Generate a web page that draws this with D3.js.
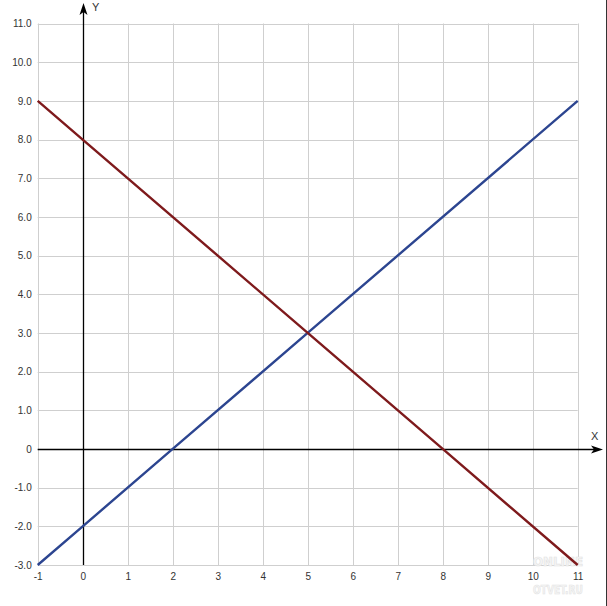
<!DOCTYPE html>
<html>
<head>
<meta charset="utf-8">
<script src="https://cdn.jsdelivr.net/npm/d3@7"></script>
<style>
  html, body { margin: 0; padding: 0; background: #fff; }
  svg { display: block; }
  .tick text { font-family: "Liberation Sans", Arial, sans-serif; font-size: 10px; fill: #333; }
</style>
</head>
<body>
<svg id="chart" width="607" height="606"></svg>
<script>
// ---- data ----
const xTicks = [-1, 0, 1, 2, 3, 4, 5, 6, 7, 8, 9, 10, 11];
const yTicks = [-3, -2, -1, 0, 1, 2, 3, 4, 5, 6, 7, 8, 9, 10, 11];
const yTickLabels = ["-3.0", "-2.0", "-1.0", "0", "1.0", "2.0", "3.0", "4.0", "5.0", "6.0", "7.0", "8.0", "9.0", "10.0", "11.0"];
const redX = [-1, 0, 5, 8, 11];
const redY = [9, 8, 3, 0, -3];
const blueX = [-1, 0, 2, 5, 11];
const blueY = [-3, -2, 0, 3, 9];
const axisLabels = ["X", "Y"];
const watermark = ["ONLINE", "OTVET.RU"];

// ---- layout ----
const svg = d3.select("#chart");
const x = d3.scaleLinear().domain([-1, 11]).range([37.7, 577.7]);
const y = d3.scaleLinear().domain([-3, 11]).range([565, 23.5]);

// grid
const grid = svg.append("g").attr("stroke", "#cfcfcf").attr("stroke-width", 1);
grid.selectAll("line.v").data(xTicks).join("line")
  .attr("class", "v")
  .attr("x1", d => Math.round(x(d)) + 0.5).attr("x2", d => Math.round(x(d)) + 0.5)
  .attr("y1", y(11)).attr("y2", y(-3));
grid.selectAll("line.h").data(yTicks).join("line")
  .attr("class", "h")
  .attr("y1", d => Math.round(y(d)) + 0.5).attr("y2", d => Math.round(y(d)) + 0.5)
  .attr("x1", x(-1)).attr("x2", x(11));

// tick labels via d3 axes
const yAxis = d3.axisLeft(y).tickValues(yTicks).tickSize(0).tickPadding(6)
  .tickFormat((d, i) => yTickLabels[i]);
svg.append("g").attr("transform", `translate(${x(-1)},0)`).call(yAxis)
  .call(g => g.select(".domain").remove());
const xAxis = d3.axisBottom(x).tickValues(xTicks).tickSize(0).tickPadding(8)
  .tickFormat(d => String(d));
svg.append("g").attr("transform", `translate(0,${y(-3)})`).call(xAxis)
  .call(g => g.select(".domain").remove());

// watermark (faint)
const wm = svg.append("g").attr("font-family", "DejaVu Sans, sans-serif")
  .attr("font-weight", "bold").attr("fill", "#f6f6f6").attr("stroke", "#e4e4e4").attr("stroke-width", 0.7);
wm.append("text").attr("x", 533).attr("y", 566).attr("font-size", 12)
  .attr("textLength", 50).attr("lengthAdjust", "spacingAndGlyphs").text(watermark[0]);
wm.append("text").attr("x", 533).attr("y", 594).attr("font-size", 12)
  .attr("textLength", 50).attr("lengthAdjust", "spacingAndGlyphs").text(watermark[1]);

// axes lines with arrows
const axX0 = Math.round(x(0)) + 0.5;
const axY0 = Math.round(y(0)) + 0.5;
svg.append("line").attr("x1", axX0).attr("x2", axX0).attr("y1", y(-3)).attr("y2", 10)
  .attr("stroke", "#000").attr("stroke-width", 1.3);
svg.append("path").attr("d", `M${axX0},3 L${axX0 - 4},15 L${axX0},12 L${axX0 + 4},15 Z`).attr("fill", "#000");
svg.append("line").attr("x1", x(-1)).attr("x2", 597).attr("y1", axY0).attr("y2", axY0)
  .attr("stroke", "#000").attr("stroke-width", 1.3);
svg.append("path").attr("d", `M603,${axY0} L591,${axY0 - 4} L594,${axY0} L591,${axY0 + 4} Z`).attr("fill", "#000");

svg.append("text").attr("x", 591).attr("y", 440)
  .attr("font-family", "Liberation Sans, Arial, sans-serif").attr("font-size", 11).attr("fill", "#333")
  .text(axisLabels[0]);
svg.append("text").attr("x", 92).attr("y", 11)
  .attr("font-family", "Liberation Sans, Arial, sans-serif").attr("font-size", 11).attr("fill", "#333")
  .text(axisLabels[1]);

// data lines
const line = d3.line().x(d => x(d[0])).y(d => y(d[1]));
const redPts = redX.map((v, i) => [v, redY[i]]);
const bluePts = blueX.map((v, i) => [v, blueY[i]]);
svg.append("path").datum(bluePts).attr("d", line)
  .attr("fill", "none").attr("stroke", "#2c4590").attr("stroke-width", 2.4);
svg.append("path").datum(redPts).attr("d", line)
  .attr("fill", "none").attr("stroke", "#7e1a1c").attr("stroke-width", 2.4);

// right edge line
svg.append("line").attr("x1", 606.5).attr("x2", 606.5).attr("y1", 0).attr("y2", 606)
  .attr("stroke", "#333").attr("stroke-width", 1);
</script>
</body>
</html>
